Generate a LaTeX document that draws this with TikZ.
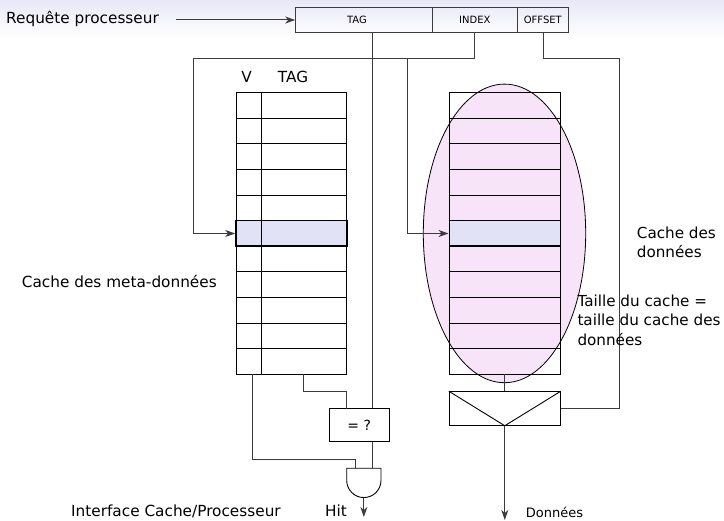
\documentclass[tikz,border=0pt]{standalone}
\usepackage{fontspec}
\setmainfont{DejaVu Sans}
\usetikzlibrary{arrows.meta,shapes.geometric}
\definecolor{hlfill}{RGB}{226,226,247}
\definecolor{ellfill}{RGB}{248,228,248}
\definecolor{wirec}{RGB}{60,60,60}
\definecolor{bgtop}{RGB}{232,232,248}
\begin{document}
\begin{tikzpicture}[x=1pt,y=-1pt,
  wire/.style={draw=wirec,line width=1pt},
  arr/.style={wire,-{Stealth[length=10pt,width=7pt,inset=3pt]}},
  tbl/.style={draw=black,line width=0.9pt},
  field/.style={draw=wirec,line width=1pt,inner sep=0pt,minimum height=25.4pt,font=\fontsize{10}{12}\selectfont},
  lbl/.style={inner sep=0pt,font=\fontsize{15.3}{18}\selectfont,text height=11pt,text depth=3.5pt},
  mlbl/.style={inner sep=0pt,align=left,font=\fontsize{15.2}{19.6}\selectfont},
  hl/.style={draw=black,line width=1.6pt,fill=hlfill,inner sep=0pt,minimum height=25.6pt},
  ]
\useasboundingbox (0,0) rectangle (724,521);
\shade[top color=bgtop,bottom color=white] (0,0) rectangle (724,38);

% processor request
\node[lbl,anchor=west] (reqlbl) at (6,20) {Requête processeur};
\node[field,minimum width=136.6pt,label={[font=\fontsize{10}{12}\selectfont,xshift=-7pt]center:TAG}] (tagf) at (364,20) {};
\node[field,minimum width=85pt] (idxf) at (474.8,20) {INDEX};
\node[field,minimum width=51pt] (offf) at (542.8,20) {OFFSET};
\coordinate (reqstart) at (176,20);
\draw[arr] (reqstart) -- (tagf.west);

% data cache ellipse
\node[ellipse,draw=black,line width=0.8pt,fill=ellfill,minimum width=162.4pt,minimum height=298.6pt,inner sep=0pt] (ell) at (504.5,233.4) {};

% metadata table
\draw[tbl] (236,92.7) rectangle (346.7,374.3);
\foreach \k in {1,...,10} \draw[tbl] (236,92.7+25.6*\k) -- (346.7,92.7+25.6*\k);
\draw[tbl] (261.3,92.7) -- (261.3,374.3);
\node[hl,minimum width=25.3pt] (mv) at (248.65,233.5) {};
\node[hl,minimum width=85.4pt] (mt) at (304,233.5) {};
\node[lbl] (vlbl) at (246.7,79) {V};
\node[lbl] (taglbl) at (293,79) {TAG};

% data table
\draw[tbl] (449.3,92.7) rectangle (560.3,374.3);
\foreach \k in {1,...,10} \draw[tbl] (449.3,92.7+25.6*\k) -- (560.3,92.7+25.6*\k);
\node[hl,minimum width=111pt] (dh) at (504.8,233.5) {};

% mux
\node[draw=black,line width=0.9pt,minimum width=111pt,minimum height=33.6pt,inner sep=0pt] (mux) at (504.8,408.5) {};
\draw[tbl] (mux.north west) -- (mux.south) -- (mux.north east);
\coordinate (dtbot) at (504.8,374.3);
\draw[wire] (dtbot) -- (mux.north);

% comparator
\node[draw=black,line width=0.9pt,minimum width=60pt,minimum height=33.3pt,inner sep=0pt,font=\fontsize{14}{16}\selectfont] (eq) at (359.3,425.3) {= ?};

% and gate
\draw[tbl] (346.7,468.3) -- (381,468.3) -- (381,480.4) arc[start angle=0,end angle=-180,radius=17.15pt] -- cycle;
\coordinate (gin1) at (355.3,468.3);
\coordinate (gin2) at (372.3,468.3);
\coordinate (gout) at (363.85,497.6);

% wires
\coordinate (tagtap) at (372.3,32.7);
\draw[wire] (tagtap) -- (tagtap |- eq.north);
\coordinate (idxtap) at (474.7,32.7);
\coordinate (idxbend) at (474.7,58.3);
\coordinate (leftbend) at (193.3,58.3);
\draw[arr] (idxtap) -- (idxbend) -- (leftbend) -- (leftbend |- mv.west) -- (mv.west);
\coordinate (br) at (407,58.3);
\draw[arr] (br) -- (br |- dh.west) -- (dh.west);
\coordinate (offtap) at (543,32.7);
\coordinate (offb1) at (543,58.3);
\coordinate (offb2) at (619.3,58.3);
\draw[wire] (offtap) -- (offb1) -- (offb2) -- (offb2 |- mux.east) -- (mux.east);
\coordinate (vbot) at (252.7,374.3);
\draw[wire] (vbot) -- (252.7,459.3) -- (355.3,459.3) -- (gin1);
\coordinate (tbot) at (303.7,374.3);
\coordinate (eqin) at (346.7,408.65);
\draw[wire] (tbot) -- (303.7,391.3) -- (346.7,391.3) -- (eqin);
\draw[wire] (gin2 |- eq.south) -- (gin2);
\coordinate (hitend) at (363.85,517);
\draw[arr] (gout) -- (hitend);
\coordinate (donend) at (504.8,520);
\draw[arr] (mux.south) -- (donend);

% labels
\node[lbl,anchor=west] (metalbl) at (21.7,284) {Cache des meta-données};
\node[lbl,anchor=west] (iflbl) at (71,513) {Interface Cache/Processeur};
\node[lbl,anchor=west] (hitlbl) at (325,513) {Hit};
\node[lbl,anchor=west,font=\fontsize{13}{15}\selectfont,text height=9.5pt,text depth=3pt] (donlbl) at (525.7,514.3) {Données};
\node[mlbl,anchor=west] (cdlbl) at (636.7,242.5) {Cache des\\données};
\node[mlbl,anchor=west] (tlbl) at (577.3,320) {Taille du cache =\\taille du cache des\\données};
\end{tikzpicture}
\end{document}
